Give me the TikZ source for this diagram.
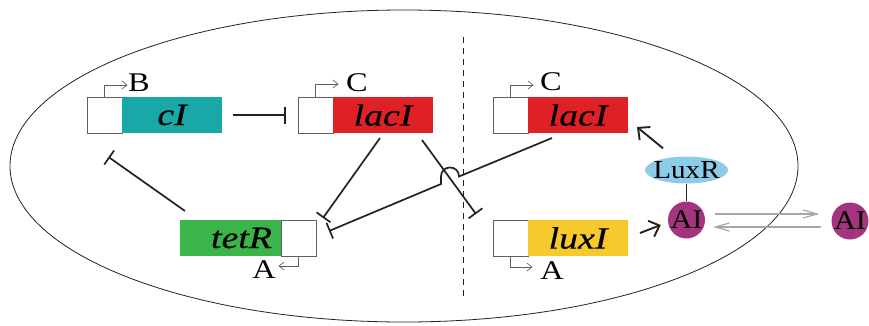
\documentclass[tikz,border=0pt]{standalone}
\usepackage{fontspec}
\setmainfont{Liberation Serif}
\newfontfamily\genefont[FakeStretch=1.22,FakeBold=0.4]{Liberation Serif}
\newfontfamily\tagfont[FakeStretch=1.2]{Liberation Serif}
\newfontfamily\molfont[FakeStretch=1.12]{Liberation Serif}
\usetikzlibrary{arrows.meta,calc,shapes.geometric}

\definecolor{cIcol}{HTML}{19A8A8}
\definecolor{lacIcol}{HTML}{DF2027}
\definecolor{tetRcol}{HTML}{3BB54A}
\definecolor{luxIcol}{HTML}{F6C92C}
\definecolor{luxRcol}{HTML}{8ECBE8}
\definecolor{AIcol}{HTML}{A3357F}
\definecolor{ink}{HTML}{222222}

% text centred on its capitals, taking no room in its node
\newcommand{\captext}[1]{\smash{\raisebox{-0.33em}{\makebox[0pt]{#1}}}}

\begin{document}
\begin{tikzpicture}[x=1pt,y=-1pt,
  promoter/.style={draw=gray!75!black, line width=0.7pt, fill=white,
    minimum width=35pt, minimum height=36pt, inner sep=0pt, outer sep=0pt},
  gene/.style={minimum width=100pt, minimum height=36pt, inner sep=0pt,
    outer sep=0pt, font=\genefont\fontsize{31}{33}\selectfont\itshape},
  lbl/.style={inner sep=0pt, font=\tagfont\fontsize{27}{29}\selectfont},
  tss/.style={draw=gray!75!black, line width=0.7pt,
    -{Straight Barb[length=5pt,width=8pt]}},
  inh/.style={draw=ink, line width=1.7pt, -{Bar[width=17pt,line width=1.7pt]}},
  act/.style={draw=ink, line width=1.9pt,
    -{Straight Barb[length=9pt,width=17pt,line width=1.9pt]}},
  xch/.style={draw=gray!70, line width=1.2pt,
    -{Straight Barb[length=14pt,width=8pt,line width=1.2pt]}},
  molecule/.style={circle, fill=AIcol, minimum size=37pt, inner sep=0pt,
    font=\molfont\fontsize{27}{29}\selectfont}
]
\useasboundingbox (0,0) rectangle (869,325);

% cell membrane and the dividing line
\draw[ink, line width=0.8pt] (404,166) ellipse [x radius=394, y radius=156];
\coordinate (divtop) at (463,37);
\coordinate (divbot) at (463,300);
\draw[ink, line width=1pt, dash pattern=on 6pt off 5pt] (divtop) -- (divbot);

% genes
\node[promoter, anchor=north west] (pB) at (87,97) {};
\node[gene, fill=cIcol, anchor=north west] (cI) at (122,97) {cI};
\node[promoter, anchor=north west] (pC1) at (298,97) {};
\node[gene, fill=lacIcol, anchor=north west] (lacL) at (333,97) {lacI};
\node[promoter, anchor=north west] (pC2) at (493,97) {};
\node[gene, fill=lacIcol, anchor=north west] (lacR) at (528,97) {lacI};
\node[gene, fill=tetRcol, anchor=north west, minimum width=101pt] (tetR) at (180,220) {\hspace*{22pt}tetR};
\node[promoter, anchor=north west] (pA1) at (281,220) {};
\node[promoter, anchor=north west] (pD) at (493,220) {};
\node[gene, fill=luxIcol, anchor=north west] (luxI) at (528,220) {luxI};

% promoter labels and start arrows
\node[lbl] (B) at (139,83) {B};
\node[lbl] (C1) at (357,83) {C};
\node[lbl] (C2) at (551,82) {C};
\node[lbl] (A1) at (264,270) {A};
\node[lbl] (A2) at (552,271) {A};
\draw[tss] (pB.north) -- ++(0,-12) -- ++(23,0);
\draw[tss] (pC1.north) -- ++(0,-13) -- ++(23,0);
\draw[tss] (pC2.north) -- ++(0,-12) -- ++(23,0);
\draw[tss] (pA1.south) -- ++(0,10) -- ++(-20,0);
\draw[tss] (pD.south) -- ++(0,11) -- ++(22,0);

% quorum sensing molecules
\node[ellipse, fill=luxRcol, minimum width=83pt, minimum height=27pt,
      inner sep=0pt, font=\molfont\fontsize{26}{28}\selectfont] (LuxR) at (686.5,170) {\captext{LuxR}};
\node[molecule] (AIin) at (686.5,220) {\captext{AI}};
\node[molecule] (AIout) at (850,221) {\captext{AI}};

% repression
\draw[inh] ([xshift=11pt]cI.east) -- ([xshift=-12pt]pC1.west);
\draw[inh] ([shift={(5,-9)}]tetR.north west) -- ([shift={(4,24)}]pB.south);
\draw[inh] ([shift={(-3,5)}]lacL.south) -- ([shift={(7,-2)}]pA1.north east);
\draw[inh] ([shift={(-11,7)}]lacL.south east) -- ([shift={(-17,-6)}]pD.north west);
\coordinate (hop) at (450,176.5);
\draw[inh] ([shift={(-26,5)}]lacR.south) -- ($(hop)+(9,0)$)
  .. controls +(0,-12) and +(0,-12) .. ($(hop)+(-9,0)$)
  -- ++(0,7.5) -- ([shift={(13,-7)}]pA1.east);

% activation
\draw[act] ([shift={(6,-12)}]LuxR.north west) -- ([shift={(9,-6)}]lacR.south east);
\draw[act] ([shift={(12,-5)}]luxI.east) -- ([shift={(-7,5)}]AIin.west);
\draw[ink, line width=1.4pt] (LuxR.south) -- (AIin.north);

% diffusion across the membrane
\draw[xch] ([shift={(10,-6)}]AIin.east) -- ([shift={(-12,-7)}]AIout.west);
\draw[xch] ([shift={(-10,6)}]AIout.west) -- ([shift={(8,7)}]AIin.east);
\end{tikzpicture}
\end{document}
